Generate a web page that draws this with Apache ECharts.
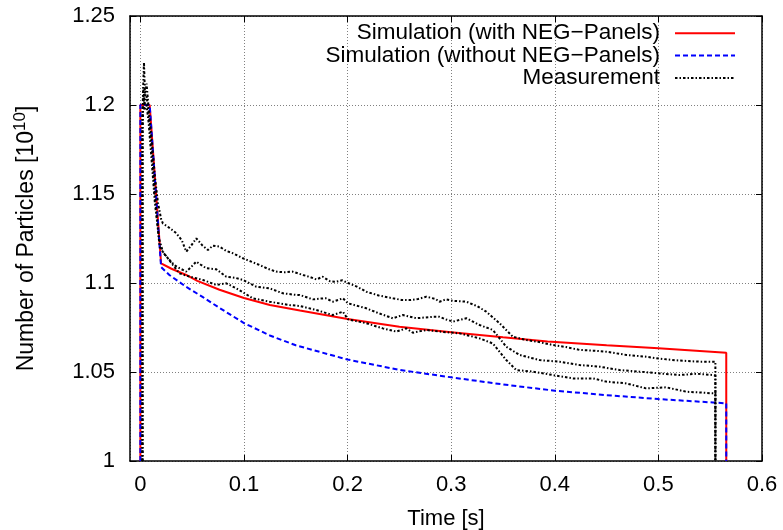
<!DOCTYPE html>
<html>
<head>
<meta charset="utf-8">
<script src="https://cdn.jsdelivr.net/npm/echarts@6/dist/echarts.min.js"></script>
<style>html,body{margin:0;padding:0;background:#fff;}#c{width:783px;height:530px;}</style>
</head>
<body>
<div id="c"></div>
<script>
var FONT = '"Liberation Sans", Arial, Helvetica, sans-serif';

var seriesNames = ['Simulation (with NEG\u2212Panels)', 'Simulation (without NEG\u2212Panels)', 'Measurement'];

var simWith = [[0,1.0],[0,1.2],[0.009,1.2],[0.02,1.111],[0.03,1.108],[0.0443,1.1045],[0.055,1.1012],[0.0764,1.0962],[0.1,1.0916],[0.125,1.0876],[0.154,1.0845],[0.2,1.0798],[0.25,1.0754],[0.3,1.0723],[0.35,1.0695],[0.393,1.0672],[0.45,1.065],[0.5,1.0633],[0.5655,1.0608],[0.5655,1.0]];

var simWithout = [[0,1.0],[0,1.2],[0.009,1.2],[0.02,1.109],[0.028,1.1045],[0.0443,1.0978],[0.06,1.0922],[0.0764,1.086],[0.1,1.0775],[0.125,1.0705],[0.15,1.065],[0.2,1.057],[0.25,1.0512],[0.3,1.047],[0.35,1.043],[0.4,1.0395],[0.45,1.037],[0.5,1.0348],[0.5655,1.0324],[0.5655,1.0]];

var meas1 = [[0.002,1.0],[0.002,1.195],[0.003,1.215],[0.0035,1.224],[0.0045,1.205],[0.006,1.212],[0.008,1.198],[0.011,1.18],[0.014,1.16],[0.017,1.145],[0.02,1.136],[0.0217,1.1335],[0.028,1.131],[0.0346,1.128],[0.04,1.124],[0.0443,1.1176],[0.049,1.121],[0.054,1.1251],[0.06,1.121],[0.0652,1.1185],[0.07,1.121],[0.0764,1.1204],[0.083,1.118],[0.0893,1.1167],[0.099,1.1139],[0.107,1.112],[0.115,1.1101],[0.123,1.108],[0.131,1.1064],[0.139,1.106],[0.147,1.1064],[0.157,1.1045],[0.163,1.1035],[0.17,1.102],[0.176,1.1035],[0.183,1.101],[0.189,1.1007],[0.195,1.1015],[0.2,1.1001],[0.209,1.098],[0.218,1.0951],[0.23,1.093],[0.2437,1.0914],[0.252,1.0905],[0.26,1.0904],[0.268,1.091],[0.276,1.0923],[0.285,1.091],[0.2888,1.0895],[0.295,1.0908],[0.3017,1.09],[0.3146,1.0895],[0.325,1.087],[0.3339,1.0839],[0.3467,1.0774],[0.3596,1.0698],[0.3725,1.068],[0.385,1.0668],[0.398,1.0652],[0.411,1.064],[0.424,1.0624],[0.437,1.062],[0.4497,1.0614],[0.469,1.0596],[0.488,1.0586],[0.4975,1.0578],[0.5076,1.0571],[0.517,1.0566],[0.527,1.0562],[0.54,1.0558],[0.5526,1.0558],[0.555,1.0558],[0.555,1.0]];

var meas2 = [[0.002,1.0],[0.002,1.19],[0.003,1.21],[0.004,1.2],[0.006,1.205],[0.008,1.195],[0.011,1.175],[0.014,1.15],[0.0185,1.1204],[0.0235,1.116],[0.0282,1.1129],[0.033,1.11],[0.0378,1.1083],[0.0443,1.1064],[0.049,1.109],[0.054,1.112],[0.059,1.11],[0.0636,1.1083],[0.0733,1.1077],[0.083,1.1035],[0.091,1.103],[0.099,1.1017],[0.112,1.0979],[0.1247,1.097],[0.1376,1.0942],[0.1505,1.0933],[0.1538,1.0933],[0.1665,1.0908],[0.173,1.0912],[0.179,1.0914],[0.1858,1.0895],[0.1955,1.0914],[0.2003,1.0886],[0.218,1.0858],[0.23,1.083],[0.2437,1.0802],[0.2534,1.082],[0.2663,1.0802],[0.2823,1.081],[0.2888,1.081],[0.2952,1.0795],[0.3017,1.0783],[0.3146,1.0802],[0.3274,1.0764],[0.3403,1.0736],[0.3532,1.0642],[0.366,1.0596],[0.3853,1.0567],[0.4046,1.0558],[0.424,1.0539],[0.4433,1.053],[0.4625,1.0511],[0.4818,1.0502],[0.5012,1.0492],[0.5205,1.0483],[0.537,1.049],[0.5526,1.0483],[0.555,1.048],[0.555,1.0]];

var meas3 = [[0.002,1.0],[0.002,1.185],[0.003,1.205],[0.004,1.197],[0.006,1.2],[0.008,1.19],[0.011,1.168],[0.014,1.145],[0.018,1.125],[0.0217,1.1176],[0.0314,1.1101],[0.0378,1.1054],[0.045,1.104],[0.0604,1.1017],[0.0733,1.0989],[0.083,1.0998],[0.0926,1.097],[0.1086,1.0914],[0.1247,1.0895],[0.144,1.0876],[0.1538,1.0871],[0.1698,1.0848],[0.1858,1.082],[0.1955,1.0839],[0.2003,1.0796],[0.218,1.0774],[0.234,1.0745],[0.247,1.0727],[0.2566,1.0745],[0.263,1.0721],[0.276,1.0736],[0.2888,1.0727],[0.3082,1.0717],[0.3274,1.0689],[0.3403,1.066],[0.3532,1.0567],[0.3628,1.0511],[0.3789,1.0502],[0.398,1.0483],[0.4175,1.0464],[0.437,1.0464],[0.4497,1.0446],[0.469,1.0436],[0.488,1.0408],[0.5076,1.0414],[0.527,1.0389],[0.54,1.0385],[0.5526,1.038],[0.555,1.038],[0.555,1.0]];

var xRange = [-0.01, 0.6];
var yRange = [1, 1.25];
var yStep = 0.05;

var chart = echarts.init(document.getElementById('c'), null, {renderer: 'canvas'});

var axisLineStyle = {color: '#000', width: 1.5};
var gridLine = {show: true, lineStyle: {color: '#808080', width: 1, type: [1, 2]}};
var labelStyle = {color: '#000', fontSize: 22, fontFamily: FONT};

function fmt(v) { var r = Math.round(v * 1000) / 1000; return (r === 0 ? 0 : r).toString(); }

var measStyle = {color: '#000', width: 2, type: [2.5, 2, 1.5, 2]};

function legendItem(name, top) {
  return {
    data: [name], right: 47, top: top, orient: 'horizontal', align: 'right',
    itemWidth: 60, itemHeight: 22, padding: 0, selectedMode: false,
    itemStyle: {opacity: 0, borderWidth: 0},
    textStyle: {fontSize: 22.5, color: '#000', fontFamily: FONT, lineHeight: 22, padding: [0, 10, 0, 0]}
  };
}

chart.setOption({
  animation: false,
  backgroundColor: '#fff',
  grid: {left: 130, right: 21, top: 16, bottom: 69, containLabel: false, outerBoundsMode: 'none'},
  legend: [legendItem(seriesNames[0], 21.7), legendItem(seriesNames[1], 43.9), legendItem(seriesNames[2], 66.5)],
  xAxis: [{
    type: 'value', min: xRange[0], max: xRange[1], position: 'bottom',
    axisLine: {onZero: false, lineStyle: axisLineStyle},
    axisTick: {show: true, inside: true, length: 6, lineStyle: {color: '#000', width: 1}},
    axisLabel: Object.assign({showMinLabel: false, margin: 13, formatter: fmt}, labelStyle),
    splitLine: gridLine,
    name: 'Time [s]', nameLocation: 'middle', nameGap: 47,
    nameTextStyle: {color: '#000', fontSize: 22, fontFamily: FONT}
  }, {
    type: 'value', min: xRange[0], max: xRange[1], position: 'top',
    axisLine: {onZero: false, lineStyle: axisLineStyle},
    axisTick: {show: true, inside: true, length: 6, lineStyle: {color: '#000', width: 1}},
    axisLabel: {show: false}, splitLine: {show: false}
  }],
  yAxis: [{
    type: 'value', min: yRange[0], max: yRange[1], interval: yStep, position: 'left',
    axisLine: {onZero: false, lineStyle: axisLineStyle},
    axisTick: {show: true, inside: true, length: 6, lineStyle: {color: '#000', width: 1}},
    axisLabel: Object.assign({margin: 15, formatter: fmt}, labelStyle),
    splitLine: gridLine,
    name: 'Number of Particles [10{sup|10}]', nameLocation: 'middle', nameGap: 88,
    nameTextStyle: {color: '#000', fontSize: 23, fontFamily: FONT, lineHeight: 30,
      rich: {sup: {fontSize: 17, fontFamily: FONT, color: '#000', verticalAlign: 'top', lineHeight: 17}}}
  }, {
    type: 'value', min: yRange[0], max: yRange[1], interval: yStep, position: 'right',
    axisLine: {onZero: false, lineStyle: axisLineStyle},
    axisTick: {show: true, inside: true, length: 6, lineStyle: {color: '#000', width: 1}},
    axisLabel: {show: false}, splitLine: {show: false}
  }],
  series: [
    {name: seriesNames[0], type: 'line', data: simWith, showSymbol: false, symbol: 'none', lineStyle: {color: '#ff0000', width: 2}, itemStyle: {color: '#ff0000'}, z: 3},
    {name: seriesNames[1], type: 'line', data: simWithout, showSymbol: false, symbol: 'none', lineStyle: {color: '#0000ff', width: 2, type: [5, 3]}, itemStyle: {color: '#0000ff'}, z: 4},
    {name: seriesNames[2], type: 'line', data: meas1, showSymbol: false, symbol: 'none', lineStyle: measStyle, itemStyle: {color: '#000'}, z: 5},
    {name: seriesNames[2], type: 'line', data: meas2, showSymbol: false, symbol: 'none', lineStyle: measStyle, itemStyle: {color: '#000'}, z: 5},
    {name: seriesNames[2], type: 'line', data: meas3, showSymbol: false, symbol: 'none', lineStyle: measStyle, itemStyle: {color: '#000'}, z: 5}
  ]
});
</script>
</body>
</html>
